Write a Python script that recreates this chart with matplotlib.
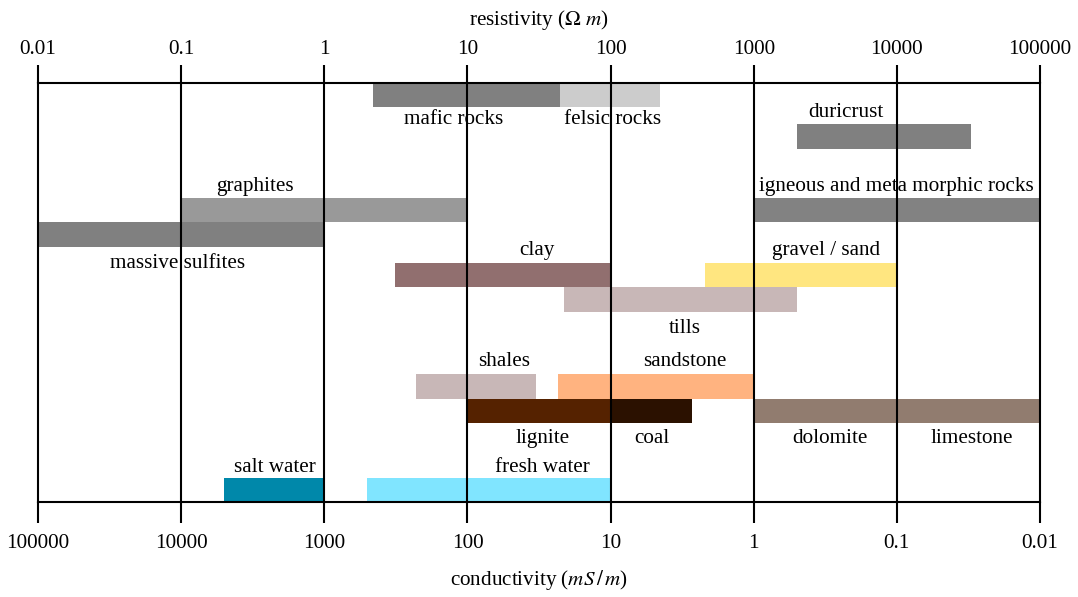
import matplotlib
matplotlib.use("Agg")
import matplotlib.pyplot as plt
from matplotlib.ticker import FixedLocator, NullLocator, FixedFormatter

plt.rcParams["font.family"] = "Liberation Serif"
plt.rcParams["mathtext.fontset"] = "stix"
plt.rcParams["font.size"] = 15.2

# Widerstandsbereiche (Ohm m) der einzelnen Materialien
materials = ["mafic rocks", "felsic rocks", "duricrust", "graphites",
             "igneous and metamorphic rocks", "massive sulfites", "clay",
             "gravel / sand", "tills", "shales", "sandstone", "lignite",
             "coal", "dolomite / limestone", "salt water", "fresh water"]
res_low = [2.2, 44, 2000, 0.1, 1000, 0.01, 3.1, 460, 47, 4.4, 43, 10,
           100, 1000, 0.2, 2.0]
res_high = [44, 220, 33000, 10, 100000, 1, 100, 10000, 2000, 30, 1000,
            100, 370, 100000, 1, 100]
colors = ["#808080", "#cccccc", "#808080", "#999999", "#828282", "#808080",
          "#916f6f", "#ffe680", "#c8b7b7", "#c8b7b7", "#ffb380", "#552200",
          "#2b1100", "#917c6f", "#0088aa", "#80e5ff"]
# Zeile (Oberkante, in Balkenhoehen von oben)
rows = [0, 0, 1.69, 4.71, 4.71, 5.71, 7.38, 7.38, 8.38, 11.93, 11.93,
        12.93, 12.93, 12.93, 16.19, 16.19]

# Beschriftungen
label_text = ["mafic rocks", "felsic rocks", "duricrust", "graphites",
              "igneous and meta morphic rocks", "massive sulfites", "clay",
              "gravel / sand", "tills", "shales", "sandstone", "lignite",
              "coal", "dolomite", "limestone", "salt water", "fresh water"]
label_x = [8.0, 104, 4400, 0.33, 10000, 0.094, 30.5, 3200, 332, 18.1, 328,
           33.4, 195, 3400, 33300, 0.45, 33.6]
label_y = [1.68, 1.68, 1.39, 4.43, 4.43, 7.58, 7.05, 7.05, 10.25, 11.6, 11.6,
           14.75, 14.75, 14.75, 14.75, 15.94, 15.94]

decades = [0.01, 0.1, 1, 10, 100, 1000, 10000, 100000]
cond_ticks = [1000 / d for d in decades]

fig = plt.figure(figsize=(10.78, 5.97), dpi=100)
ax = fig.add_axes([38 / 1078, 95 / 597, 1002 / 1078, 419 / 597])
ax2 = ax.twiny()  # Leitfaehigkeit unten (mS/m = 1000 / Ohm m)

for lo, hi, c, r in zip(res_low, res_high, colors, rows):
    ax.barh(r, hi - lo, left=lo, height=1, align="edge", color=c, lw=0)

for t, x, y in zip(label_text, label_x, label_y):
    ax.text(x, y, t, ha="center", va="baseline")

ax.set_xscale("log")
ax.set_xlim(0.01, 100000)
ax.set_ylim(17.17, 0)
ax.set_yticks([])
for s in ["left", "right"]:
    ax.spines[s].set_visible(False)
for s in ["top", "bottom"]:
    ax.spines[s].set_linewidth(1.5)

ax.xaxis.tick_top()
ax.xaxis.set_major_locator(FixedLocator(decades))
ax.xaxis.set_major_formatter(FixedFormatter([f"{d:g}" for d in decades]))
ax.xaxis.set_minor_locator(NullLocator())
ax.tick_params(axis="x", length=13, width=1.5, pad=4)
ax.set_axisbelow(False)
ax.grid(axis="x", color="black", lw=1.5)
for gl in ax.get_xgridlines():
    gl.set_clip_on(False)
ax.xaxis.set_label_position("top")
ax.set_xlabel(r"resistivity ($\Omega\ m$)", labelpad=11)

ax2.set_xscale("log")
ax2.set_xlim(100000, 0.01)
for s in ax2.spines.values():
    s.set_visible(False)
ax2.xaxis.tick_bottom()
ax2.xaxis.set_label_position("bottom")
ax2.xaxis.set_major_locator(FixedLocator(cond_ticks))
ax2.xaxis.set_major_formatter(FixedFormatter([f"{c:g}" for c in cond_ticks]))
ax2.xaxis.set_minor_locator(NullLocator())
ax2.tick_params(axis="x", length=15, width=1.5, pad=8)
ax2.set_xlabel(r"conductivity ($mS\,/\,m$)", labelpad=11)

fig.savefig("out.png", dpi=100)
